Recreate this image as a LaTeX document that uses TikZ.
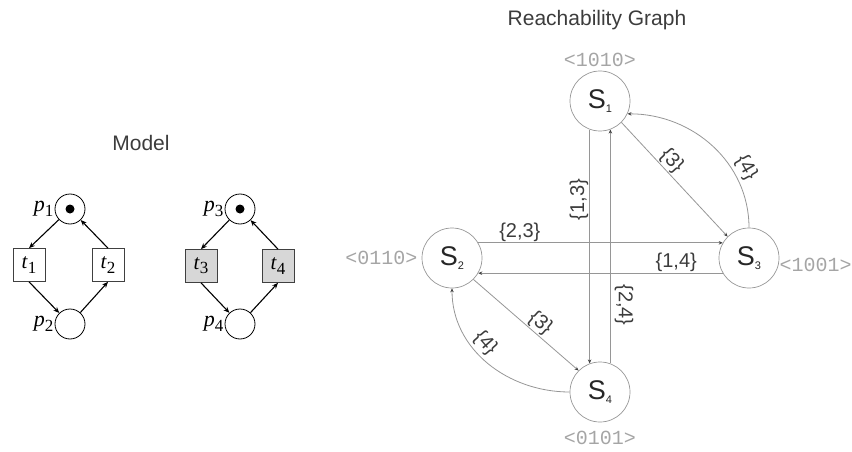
\documentclass[tikz,border=0pt]{standalone}
\usepackage{fontspec}
\setmainfont{Liberation Sans}
\newfontfamily\netfont{Liberation Serif}
\newfontfamily\markfont{Liberation Mono}
\usetikzlibrary{positioning,arrows.meta}
\definecolor{EdgeGray}{RGB}{150,150,150}
\definecolor{TextGray}{RGB}{60,60,60}
\definecolor{MarkGray}{RGB}{165,165,165}
\definecolor{TransFill}{RGB}{215,215,215}
\newcommand\netsym[2]{\textit{#1}\raisebox{-0.2em}{\fontsize{17}{17}\selectfont #2}}
\newcommand\stname[1]{S\raisebox{-0.15em}{\fontsize{11}{11}\selectfont #1}}

\begin{document}
\begin{tikzpicture}[x=1pt,y=-1pt,
  place/.style={draw,circle,minimum size=30pt,inner sep=0pt,line width=0.8pt},
  trans/.style={draw=black!75,minimum width=32pt,minimum height=33pt,inner sep=0pt,line width=0.7pt,font=\netfont\fontsize{21}{21}\selectfont},
  netlab/.style={inner sep=1pt,font=\netfont\fontsize{22}{22}\selectfont},
  arc/.style={line width=1.1pt,-{Stealth[length=6pt,width=5pt]}},
  title/.style={text=TextGray,font=\fontsize{21}{21}\selectfont},
  state/.style={draw=EdgeGray,circle,minimum size=60pt,inner sep=0pt,line width=0.7pt,text=black!85,font=\fontsize{27}{27}\selectfont},
  marking/.style={text=MarkGray,inner sep=0pt,font=\markfont\fontsize{20}{20}\selectfont},
  fire/.style={draw=EdgeGray,line width=0.8pt,-{Stealth[length=4pt,width=3.5pt,black!75]}},
  edgelab/.style={text=TextGray,inner sep=1pt,font=\fontsize{20}{20}\selectfont}]
\useasboundingbox (0,0) rectangle (852,452);

% Petri net model
\node[title] (model) at (141,143) {Model};
\node[place] (p1) at (70,209) {};
\node[place] (p2) at (70,324) {};
\node[trans] (t1) at (29,265) {\netsym{t}{1}};
\node[trans] (t2) at (108,265) {\netsym{t}{2}};
\node[place] (p3) at (240,209) {};
\node[place] (p4) at (240,324) {};
\node[trans,fill=TransFill] (t3) at (201,266) {\netsym{t}{3}};
\node[trans,fill=TransFill] (t4) at (278,266) {\netsym{t}{4}};
\node[netlab,left=0pt of p1] (p1lab) {\netsym{p}{1}};
\node[netlab,left=0pt of p2] (p2lab) {\netsym{p}{2}};
\node[netlab,left=0pt of p3] (p3lab) {\netsym{p}{3}};
\node[netlab,left=0pt of p4] (p4lab) {\netsym{p}{4}};
\fill (p1.center) circle[radius=4.5pt];
\fill (p3.center) circle[radius=4.5pt];
\draw[arc] (p1) -- (t1.north);
\draw[arc] (t1.south) -- (p2);
\draw[arc] (p2) -- (t2.south);
\draw[arc] (t2.north) -- (p1);
\draw[arc] (p3) -- (t3.north);
\draw[arc] (t3.south) -- (p4);
\draw[arc] (p4) -- (t4.south);
\draw[arc] (t4.north) -- (p3);

% reachability graph
\node[title] (rgtitle) at (597,20) {Reachability Graph};
\node[state] (S1) at (600,101) {\stname{1}};
\node[state] (S2) at (452,258) {\stname{2}};
\node[state] (S3) at (749,258) {\stname{3}};
\node[state] (S4) at (600,392) {\stname{4}};
\node[marking,above=4pt of S1] (m1) {<1010>};
\node[marking,left=4pt of S2] (m2) {<0110>};
\node[marking,right=0pt of S3,yshift=-7pt] (m3) {<1001>};
\node[marking,below=9pt of S4] (m4) {<0101>};

\draw[fire] (S1.250) -- node[edgelab,rotate=90,anchor=south,pos=.3] {\{1,3\}} (S4.110);
\draw[fire] (S4.70) -- node[edgelab,rotate=-90,anchor=south,inner sep=4pt,pos=.25] {\{2,4\}} (S1.290);
\draw[fire] (S2.30) -- node[edgelab,above,pos=.17] {\{2,3\}} (S3.150);
\draw[fire] (S3.210) -- node[edgelab,above,pos=.19] {\{1,4\}} (S2.-30);
\draw[fire] (S1.-45) -- node[edgelab,sloped,above,pos=.4] {\{3\}} (S3.135);
\draw[fire] (S2.-45) -- node[edgelab,sloped,above,pos=.57] {\{3\}} (S4.135);
\draw[fire] (S3.north) to[out=90,in=0] node[edgelab,sloped,above,inner sep=3pt,pos=.3] {\{4\}} (S1.-25);
\draw[fire] (S4.west) to[out=180,in=-90] node[edgelab,sloped,above,inner sep=3pt,pos=.6] {\{4\}} (S2.south);
\end{tikzpicture}
\end{document}
